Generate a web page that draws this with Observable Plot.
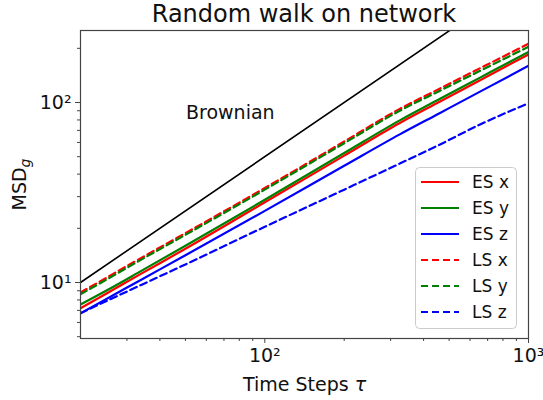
<!DOCTYPE html>
<html>
<head>
<meta charset="utf-8">
<script src="https://cdn.jsdelivr.net/npm/d3@7"></script>
<script src="https://cdn.jsdelivr.net/npm/@observablehq/plot@0.6"></script>
<style>
  html, body { margin: 0; padding: 0; background: #fff; }
  #wrap { position: relative; width: 543px; height: 400px; font-family: "DejaVu Sans", sans-serif; }
  #title { height: 28px; width: 543px; box-sizing: border-box; padding-left: 80px; padding-right: 15px;
           text-align: center; font-size: 24px; line-height: 28px; color: #111; }
  #legend { position: absolute; left: 415px; top: 167px; }
</style>
</head>
<body>
<div id="wrap">
  <div id="title">Random walk on network</div>
  <div id="chart"></div>
  <div id="legend"></div>
</div>
<script>
// ---- data ----
const tau  = [20, 25, 34, 50, 100, 200, 325, 460, 655, 1000];
const esX  = [7.2, 8.66, 11.2, 15.4, 27.9, 50.7, 77.0, 101, 133, 185];
const esY  = [7.55, 9.0, 11.6, 16.0, 28.8, 52.4, 79.6, 104.5, 137.5, 191];
const esZ  = [6.75, 8.08, 10.37, 14.17, 25.0, 44.5, 66.5, 87.2, 114.9, 160];
const lsX  = [8.8, 10.6, 13.7, 18.8, 33.5, 60.7, 92.2, 119.3, 155, 212];
const lsY  = [8.6, 10.35, 13.4, 18.4, 32.8, 59.4, 90.0, 116, 150, 204];
const lsZ  = [6.75, 7.87, 9.7, 12.6, 20.4, 32.8, 45.8, 58.3, 75.5, 99];
const brownTau = [20, 1000];
const brownMsd = [10, 500];
const brownLabel = "Brownian";
const brownLabelTau = 74;
const brownLabelMsd = 87;
const seriesNames = ["ES x", "ES y", "ES z", "LS x", "LS y", "LS z"];
const seriesValues = [esX, esY, esZ, lsX, lsY, lsZ];
const xMajor = [100, 1000];
const xMinor = [30, 40, 50, 60, 70, 80, 90, 200, 300, 400, 500, 600, 700, 800, 900];
const yMajor = [10, 100];
const yMinor = [5, 6, 7, 8, 9, 20, 30, 40, 50, 60, 70, 80, 90, 200];
const xLabel = "Time Steps τ";
const yLabel = "MSDg";

// ---- styles ----
const seriesColor = ["#ff0000", "#008000", "#0000ff", "#ff0000", "#008000", "#0000ff"];
const seriesDash  = [null, null, null, "7,4", "7,4", "7,4"];
const sup = {"1": "¹", "2": "²", "3": "³"};
const fmtPow = d => "10" + sup[String(Math.round(Math.log10(d)))];

const rows = seriesNames.map((name, i) => tau.map((t, j) => ({tau: t, msd: seriesValues[i][j], name})));
const brown = brownTau.map((t, j) => ({tau: t, msd: brownMsd[j]}));

const axisColor = "#444";
const chart = Plot.plot({
  width: 543,
  height: 372,
  marginLeft: 80,
  marginRight: 15,
  marginTop: 2,
  marginBottom: 62,
  style: {fontFamily: "DejaVu Sans, sans-serif", fontSize: "19px", color: "#111", background: "#fff"},
  x: {type: "log", domain: [20, 1000]},
  y: {type: "log", domain: [4.886, 251.2]},
  marks: [
    Plot.line(brown, {x: "tau", y: "msd", stroke: "#000", strokeWidth: 1.6, clip: true}),
    ...rows.map((r, i) => Plot.line(r, {x: "tau", y: "msd", stroke: seriesColor[i], strokeWidth: 2.2,
      strokeDasharray: seriesDash[i], curve: "monotone-x", clip: true})),
    Plot.text([brownLabel], {x: () => brownLabelTau, y: () => brownLabelMsd, text: d => d,
      fontSize: 19, fill: "#111", textAnchor: "middle"}),
    Plot.axisX({ticks: xMajor, tickFormat: fmtPow, tickSize: 5, tickPadding: 5, stroke: axisColor,
      label: xLabel, labelAnchor: "center", labelArrow: "none", labelOffset: 52, fontSize: 19}),
    Plot.axisX({ticks: xMinor, tickFormat: () => "", tickSize: 3, stroke: axisColor, label: null}),
    Plot.axisY({ticks: yMajor, tickFormat: fmtPow, tickSize: 5, tickPadding: 4, stroke: axisColor,
      label: yLabel, labelAnchor: "center", labelArrow: "none", labelOffset: 68, fontSize: 19}),
    Plot.axisY({ticks: yMinor, tickFormat: () => "", tickSize: 3, stroke: axisColor, label: null}),
    Plot.frame({stroke: axisColor, strokeWidth: 1.2})
  ]
});
document.getElementById("chart").appendChild(chart);

// math-style pieces of the axis labels: subscript g, italic tau
d3.select(chart).selectAll("text").each(function() {
  const t = d3.select(this);
  if (this.textContent === yLabel) {
    t.text(null);
    t.append("tspan").text("MSD");
    t.append("tspan").attr("font-size", "14px").attr("font-style", "italic").attr("dy", "0.3em").text("g");
  } else if (this.textContent === xLabel) {
    t.text(null);
    t.append("tspan").text("Time Steps ");
    t.append("tspan").attr("font-style", "italic").text("τ");
  }
});

// legend
const lg = d3.select("#legend").append("svg").attr("width", 103).attr("height", 163)
  .style("font-family", "DejaVu Sans, sans-serif");
lg.append("rect").attr("x", 0.5).attr("y", 0.5).attr("width", 101).attr("height", 161)
  .attr("rx", 4).attr("fill", "#fff").attr("fill-opacity", 0.85).attr("stroke", "#ccc");
seriesNames.forEach((name, i) => {
  const yy = 15 + i * 26;
  lg.append("line").attr("x1", 6).attr("x2", 44).attr("y1", yy).attr("y2", yy)
    .attr("stroke", seriesColor[i]).attr("stroke-width", 2.2)
    .attr("stroke-dasharray", seriesDash[i]);
  lg.append("text").attr("x", 57).attr("y", yy).attr("dy", "0.36em")
    .attr("font-size", 17).attr("fill", "#111").text(name);
});
</script>
</body>
</html>
